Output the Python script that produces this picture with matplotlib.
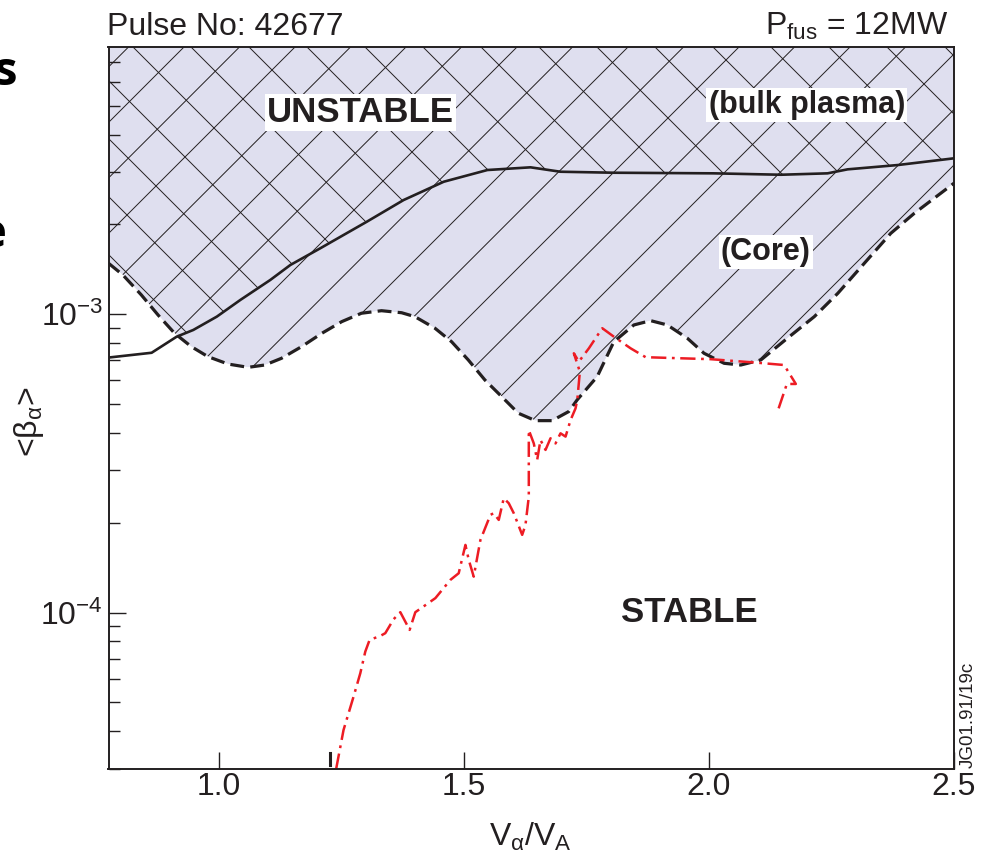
import numpy as np
import matplotlib
matplotlib.use('Agg')
import matplotlib.pyplot as plt
import matplotlib.transforms as mtransforms
from matplotlib.collections import LineCollection
from matplotlib.ticker import LogLocator, NullLocator, NullFormatter

plt.rcParams['font.family'] = ['Liberation Sans', 'DejaVu Sans']
plt.rcParams['mathtext.fontset'] = 'custom'
plt.rcParams['mathtext.rm'] = 'Liberation Sans'
plt.rcParams['mathtext.it'] = 'Liberation Sans:italic'
plt.rcParams['mathtext.bf'] = 'Liberation Sans:bold'
plt.rcParams['mathtext.sf'] = 'Liberation Sans'
plt.rcParams['lines.scale_dashes'] = False

# ---------------- data ----------------
core_x = [0.775, 0.8045, 0.842, 0.876, 0.910, 0.944, 0.978, 1.019, 1.060, 1.094,
          1.128, 1.169, 1.210, 1.251, 1.291, 1.332, 1.373, 1.400, 1.441, 1.475,
          1.509, 1.543, 1.577, 1.611, 1.646, 1.680, 1.714, 1.731, 1.772, 1.806,
          1.847, 1.881, 1.915, 1.956, 1.990, 2.031, 2.065, 2.106, 2.160, 2.215,
          2.263, 2.371, 2.419, 2.500]
core_y = [1.483e-3, 1.354e-3, 1.161e-3, 9.95e-4, 8.63e-4, 7.79e-4, 7.21e-4, 6.81e-4, 6.64e-4, 6.76e-4,
          7.12e-4, 7.79e-4, 8.63e-4, 9.45e-4, 1.008e-3, 1.028e-3, 1.012e-3, 9.82e-4, 8.98e-4, 8.09e-4,
          7.03e-4, 6.02e-4, 5.30e-4, 4.66e-4, 4.40e-4, 4.40e-4, 4.72e-4, 5.16e-4, 6.18e-4, 8.09e-4,
          9.21e-4, 9.52e-4, 9.21e-4, 8.31e-4, 7.40e-4, 6.85e-4, 6.76e-4, 7.03e-4, 8.31e-4, 9.82e-4,
          1.176e-3, 1.868e-3, 2.18e-3, 2.75e-3]

bulk_x = [0.775, 0.863, 0.914, 0.948, 0.996, 1.044, 1.105, 1.146, 1.207, 1.302, 1.377,
          1.459, 1.548, 1.636, 1.697, 1.806, 2.010, 2.147, 2.242, 2.283, 2.385, 2.500]
bulk_y = [7.16e-4, 7.43e-4, 8.41e-4, 8.86e-4, 9.82e-4, 1.117e-3, 1.303e-3, 1.463e-3, 1.664e-3, 2.043e-3, 2.415e-3,
          2.782e-3, 3.045e-3, 3.109e-3, 3.005e-3, 2.982e-3, 2.968e-3, 2.936e-3, 2.968e-3, 3.061e-3, 3.164e-3, 3.333e-3]

traj_x = [1.2396, 1.2545, 1.275, 1.2887, 1.2989, 1.3077, 1.3295, 1.3397, 1.3567, 1.3704,
          1.3894, 1.401, 1.4194, 1.4419, 1.4725, 1.4895, 1.5032, 1.510, 1.5201, 1.5338,
          1.5542, 1.561, 1.5712, 1.5814, 1.5916, 1.6018, 1.619, 1.6257, 1.6325, 1.6325,
          1.6427, 1.6496, 1.6564, 1.6666, 1.6768, 1.687, 1.6972, 1.7075, 1.7177, 1.7279,
          1.7314, 1.7367, 1.7244, 1.7346, 1.7551, 1.7687, 1.7824, 1.8061, 1.8402, 1.8709,
          2.0037, 2.0991, 2.1534, 2.1773, 2.159, 2.140]
traj_y = [3.0e-5, 4.04e-5, 5.23e-5, 6.26e-5, 7.40e-5, 8.10e-5, 8.35e-5, 8.53e-5, 9.50e-5, 1.003e-4,
          8.75e-5, 1.003e-4, 1.053e-4, 1.118e-4, 1.287e-4, 1.355e-4, 1.686e-4, 1.502e-4, 1.320e-4, 1.752e-4,
          2.126e-4, 2.154e-4, 2.045e-4, 2.417e-4, 2.326e-4, 2.154e-4, 1.822e-4, 1.967e-4, 2.447e-4, 4.09e-4,
          3.69e-4, 3.25e-4, 3.79e-4, 3.51e-4, 3.84e-4, 3.69e-4, 3.99e-4, 3.89e-4, 4.42e-4, 4.84e-4,
          5.16e-4, 6.42e-4, 7.40e-4, 6.94e-4, 7.69e-4, 8.31e-4, 8.98e-4, 8.41e-4, 7.69e-4, 7.18e-4,
          7.07e-4, 6.88e-4, 6.76e-4, 5.84e-4, 5.84e-4, 4.72e-4]

mark_x = [1.226, 1.226]
mark_y = [3.09e-5, 3.39e-5]

x_ticks = [1.0, 1.5, 2.0, 2.5]
x_tick_labels = ['1.0', '1.5', '2.0', '2.5']

# ---------------- figure ----------------
W, H = 983, 858
INK = '#231f20'
LAV = '#dfdfef'
RED = '#ed1c24'

fig = plt.figure(figsize=(W / 100, H / 100), dpi=100)
AX_L, AX_R, AX_T, AX_B = 108.5, 954.0, 47.0, 769.0
ax = fig.add_axes([AX_L / W, 1 - AX_B / H, (AX_R - AX_L) / W, (AX_B - AX_T) / H])
ax.set_yscale('log')
ax.set_xlim(0.775, 2.5)
ax.set_ylim(2.99e-5, 7.87e-3)

# pixel transform (origin top-left)
P = mtransforms.Affine2D().scale(1 / W, -1 / H).translate(0, 1) + fig.transFigure

# shaded unstable (core) region
core_fill = ax.fill_between(core_x, core_y, 1.0, color=LAV, lw=0, zorder=1)
bulk_fill = ax.fill_between(bulk_x, bulk_y, 1.0, color='none', lw=0, zorder=1)

# hatch "/" over core region
segs = []
for k in range(-6, 40):
    c = 231 + k * 55.5
    segs.append([(c - 1000, 1000), (c, 0)])
lc1 = LineCollection(segs, colors=INK, linewidths=0.7, transform=P, zorder=2)
ax.add_collection(lc1)
lc1.set_clip_path(core_fill.get_paths()[0], core_fill.get_transform())
lc1.set_clip_box(ax.bbox)

# hatch "\" over bulk region
segs = []
for k in range(-15, 20):
    c = 86 + k * 58
    segs.append([(c, 0), (c + 1000, 1000)])
lc2 = LineCollection(segs, colors=INK, linewidths=0.7, transform=P, zorder=2)
ax.add_collection(lc2)
lc2.set_clip_path(bulk_fill.get_paths()[0], bulk_fill.get_transform())
lc2.set_clip_box(ax.bbox)

# white below core boundary (stable region)
ax.fill_between(core_x, 1e-9, core_y, color='white', lw=0, zorder=2.5)

# curves
ax.plot(bulk_x, bulk_y, color=INK, lw=1.9, zorder=4, solid_joinstyle='round')
ax.plot(core_x, core_y, color=INK, lw=2.3, dashes=(10, 4.5), zorder=5)
ax.plot(traj_x, traj_y, color=RED, lw=1.8, dashes=(11, 4, 2, 4), zorder=6)
ax.plot(mark_x, mark_y, color=INK, lw=2.2, zorder=6)

# axes styling
for s in ax.spines.values():
    s.set_color(INK)
    s.set_linewidth(1.4)
    s.set_zorder(10)
ax.xaxis.set_zorder(10)
ax.yaxis.set_zorder(10)

ax.set_xticks(x_ticks)
ax.set_xticklabels(x_tick_labels)
ax.xaxis.set_minor_locator(NullLocator())
ax.yaxis.set_major_locator(LogLocator(base=10, numticks=10))
ax.yaxis.set_minor_locator(LogLocator(base=10, subs=np.arange(2, 10), numticks=20))
ax.yaxis.set_minor_formatter(NullFormatter())
ax.tick_params(axis='both', which='major', direction='in', length=12, width=1.0,
               colors=INK, labelsize=23)
ax.tick_params(axis='x', which='major', pad=2)
ax.tick_params(axis='y', which='major', pad=4)
ax.tick_params(axis='y', which='minor', direction='in', length=8, width=1.0, colors=INK)

# labels in plot
box = dict(facecolor='white', edgecolor='none', pad=1.5)
ax.text(360.8, 121.7, 'UNSTABLE', transform=P, ha='center', va='baseline',
        fontsize=25, fontweight='bold', color=INK, bbox=box, zorder=8)
ax.text(806.7, 113.3, '(bulk plasma)', transform=P, ha='center', va='baseline',
        fontsize=22, fontweight='bold', color=INK, bbox=box, zorder=8)
ax.text(765.8, 260, '(Core)', transform=P, ha='center', va='baseline',
        fontsize=22, fontweight='bold', color=INK, bbox=box, zorder=8)
ax.text(689.7, 621.7, 'STABLE', transform=P, ha='center', va='baseline',
        fontsize=25, fontweight='bold', color=INK, zorder=8)

# outer texts
fig.text(107 / W, 1 - 35 / H, 'Pulse No: 42677', ha='left', va='baseline', fontsize=23, color=INK)
fig.text(948 / W, 1 - 35 / H, r'P$_\mathregular{fus}$ = 12MW', ha='right', va='baseline',
         fontsize=23, color=INK)
fig.text(968 / W, 1 - 768 / H, 'JG01.91/19c', rotation=90, ha='center', va='bottom',
         fontsize=13.5, color=INK)
fig.text(530 / W, 1 - 846 / H, r'V$_\mathregular{α}$/V$_\mathregular{A}$', ha='center',
         va='baseline', fontsize=23, color=INK)
fig.text(29 / W, 1 - 422 / H, r'<β$_\mathregular{α}$>', rotation=90, ha='center', va='center',
         fontsize=23, color=INK)

# stray cropped letters at left edge of the original page
fig.text(17 / W, 1 - 85 / H, 's', ha='right', va='baseline', fontsize=34,
         fontweight='bold', family='Open Sans', color='black')
fig.text(7 / W, 1 - 247 / H, 'e', ha='right', va='baseline', fontsize=34,
         fontweight='bold', family='Open Sans', color='black')

fig.savefig('out.png', dpi=100)
